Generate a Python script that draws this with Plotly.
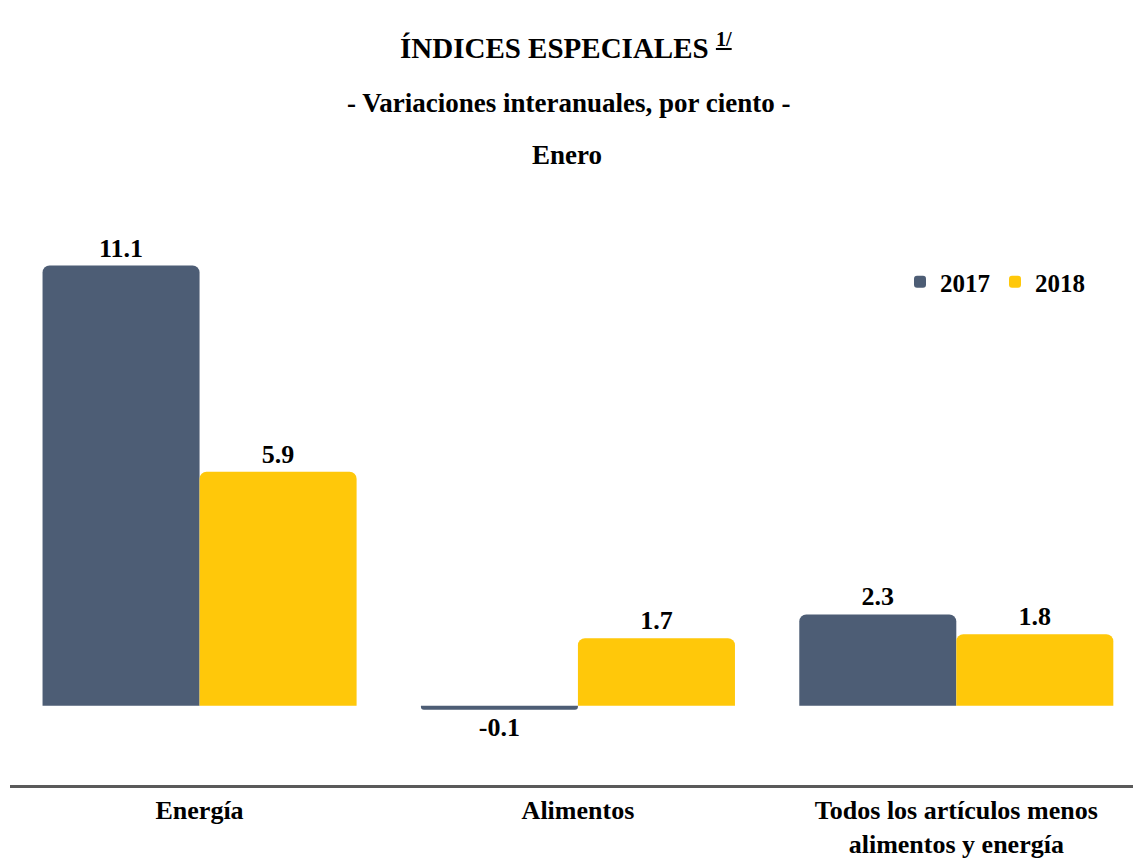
import plotly.graph_objects as go

categories = ["Energía", "Alimentos", "Todos los artículos menos<br>alimentos y energía"]
series_names = ["2017", "2018"]
values_2017 = [11.1, -0.1, 2.3]
values_2018 = [5.9, 1.7, 1.8]
colors = ["#4d5d75", "#ffc80a"]

FONT = "Liberation Serif"
W, H = 1133, 861
ML, MR, MT, MB = 10, 0, 210, 76
PH = H - MT - MB
PW = W - ML - MR

def py(pix):
    return (H - MB - pix) / PH

def px(pix):
    return (pix - ML) / PW

fig = go.Figure()
for name, vals, col in zip(series_names, [values_2017, values_2018], colors):
    fig.add_trace(go.Bar(
        x=list(range(len(categories))), y=vals, name=name,
        marker=dict(color=col, line=dict(width=0), cornerradius=7),
        text=[f"{v:.1f}" for v in vals], textposition="outside",
        textfont=dict(family=FONT, size=26, color="black", weight="bold"),
        cliponaxis=False, constraintext="none",
    ))

fig.update_layout(
    width=W, height=H,
    margin=dict(l=ML, r=MR, t=MT, b=MB, autoexpand=False),
    paper_bgcolor="white", plot_bgcolor="white",
    barmode="group", bargap=0.17, bargroupgap=0.0,
    font=dict(family=FONT, color="black"),
    showlegend=True,
    legend=dict(orientation="h", x=px(1090), xanchor="right", y=py(282), yanchor="middle",
                font=dict(family=FONT, size=25, color="black", weight="bold"),
                itemwidth=30, traceorder="normal", bgcolor="rgba(0,0,0,0)"),
    xaxis=dict(tickmode="array", tickvals=list(range(len(categories))), ticktext=categories,
               range=[-0.501, 2.467], showline=True, linecolor="#5a5a5a", linewidth=3,
               showgrid=False, zeroline=False, ticks="", automargin=False,
               tickfont=dict(family=FONT, size=26, color="black", weight="bold")),
    yaxis=dict(range=[-2, 12.5], visible=False, showgrid=False, zeroline=False),
)

fig.add_annotation(text="ÍNDICES ESPECIALES <sup><u>1/</u></sup>", xref="paper", yref="paper",
                   x=px(566), y=py(46), xanchor="center", yanchor="middle", showarrow=False,
                   font=dict(family=FONT, size=29, color="black", weight="bold"))
fig.add_annotation(text="- Variaciones interanuales, por ciento -", xref="paper", yref="paper",
                   x=px(568), y=py(103), xanchor="center", yanchor="middle", showarrow=False,
                   font=dict(family=FONT, size=27, color="black", weight="bold"))
fig.add_annotation(text="Enero", xref="paper", yref="paper",
                   x=px(567), y=py(155), xanchor="center", yanchor="middle", showarrow=False,
                   font=dict(family=FONT, size=27, color="black", weight="bold"))

fig.write_html("out.html", config={"displayModeBar": False},
               post_script="document.body.style.margin='0';document.body.style.overflow='hidden';")
